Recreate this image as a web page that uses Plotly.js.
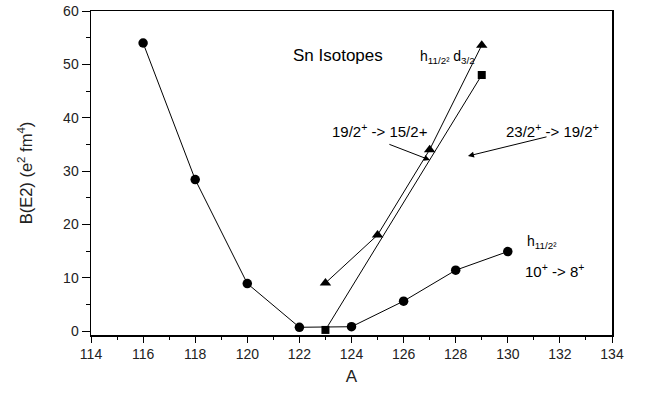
<!DOCTYPE html>
<html>
<head>
<meta charset="utf-8">
<script src="https://cdn.plot.ly/plotly-3.0.1.min.js"></script>
<style>html,body{margin:0;padding:0;background:#fff;}#chart{width:647px;height:394px;}</style>
</head>
<body>
<div id="chart"></div>
<script>
// h11/2^2 (10+ -> 8+) series
var circleA = [116, 118, 120, 122, 124, 126, 128, 130];
var circleB = [54, 28.4, 8.9, 0.7, 0.8, 5.6, 11.4, 14.9];
// 19/2+ -> 15/2+ series
var triA = [123, 125, 127, 129];
var triB = [9, 18, 34, 53.6];
// 23/2+ -> 19/2+ series
var sqA = [123, 129];
var sqB = [0.2, 48];

var line = {color: '#000', width: 1};
var traces = [
  {x: circleA, y: circleB, mode: 'lines+markers', line: line,
   marker: {symbol: 'circle', size: 9.5, color: '#000'}},
  {x: triA, y: triB, mode: 'lines+markers', line: line,
   marker: {symbol: 'triangle-up', size: 10, color: '#000'}},
  {x: sqA, y: sqB, mode: 'lines+markers', line: line,
   marker: {symbol: 'square', size: 8, color: '#000'}}
];

var fam = 'Liberation Sans, Arial, sans-serif';
var fnt = {family: fam, size: 15, color: '#000'};
var fntS = {family: fam, size: 14, color: '#000'};
var layout = {
  width: 647, height: 394,
  margin: {l: 91, r: 35, t: 11, b: 59},
  paper_bgcolor: '#fff', plot_bgcolor: '#fff',
  showlegend: false,
  font: {family: fam, size: 14, color: '#222'},
  xaxis: {
    range: [114, 134], dtick: 2, tick0: 114,
    ticks: 'outside', ticklen: 6, tickwidth: 1, tickcolor: '#000',
    minor: {dtick: 1, ticks: 'outside', ticklen: 3, tickcolor: '#000'},
    showgrid: false, zeroline: false,
    showline: true, linecolor: '#000', linewidth: 1.5, mirror: true,
    tickfont: {family: fam, size: 14, color: '#222'},
    title: {text: 'A', font: {family: fam, size: 17, color: '#222'}, standoff: 9}
  },
  yaxis: {
    range: [-0.75, 60], dtick: 10, tick0: 0,
    ticks: 'outside', ticklen: 8, tickwidth: 1, tickcolor: '#000',
    minor: {dtick: 5, ticks: 'outside', ticklen: 4, tickcolor: '#000'},
    showgrid: false, zeroline: false,
    showline: true, linecolor: '#000', linewidth: 1.5, mirror: true,
    tickfont: {family: fam, size: 14, color: '#222'},
    title: {text: 'B(E2) (e<sup>2</sup> fm<sup>4</sup>)', font: {family: fam, size: 16.5, color: '#222'}, standoff: 26}
  },
  annotations: [
    {x: 123.48, y: 51.6, xref: 'x', yref: 'y', text: 'Sn Isotopes', showarrow: false, font: {family: fam, size: 17, color: '#000'}},
    {x: 127.7, y: 51.4, xref: 'x', yref: 'y', text: 'h<sub>11/2²</sub> d<sub>3/2</sub>', showarrow: false, font: fntS},
    {x: 125.1, y: 37.6, xref: 'x', yref: 'y', text: '19/2<sup>+</sup> -> 15/2+', showarrow: false, font: fnt},
    {x: 131.7, y: 37.6, xref: 'x', yref: 'y', text: '23/2<sup>+</sup> -> 19/2<sup>+</sup>', showarrow: false, font: fnt},
    {x: 131.3, y: 16.7, xref: 'x', yref: 'y', text: 'h<sub>11/2²</sub>', showarrow: false, font: fntS},
    {x: 131.8, y: 11.4, xref: 'x', yref: 'y', text: '10<sup>+</sup> -> 8<sup>+</sup>', showarrow: false, font: fnt},
    {x: 127.01, y: 32.06, xref: 'x', yref: 'y', axref: 'x', ayref: 'y', ax: 125.32, ay: 35.25,
     text: ' ', showarrow: true, arrowhead: 2, arrowsize: 1.2, arrowwidth: 1, arrowcolor: '#000'},
    {x: 128.47, y: 32.8, xref: 'x', yref: 'y', axref: 'x', ayref: 'y', ax: 131.62, ay: 36.56,
     text: ' ', showarrow: true, arrowhead: 2, arrowsize: 1.2, arrowwidth: 1, arrowcolor: '#000'}
  ]
};
Plotly.newPlot('chart', traces, layout, {displayModeBar: false, staticPlot: true});
</script>
</body>
</html>
